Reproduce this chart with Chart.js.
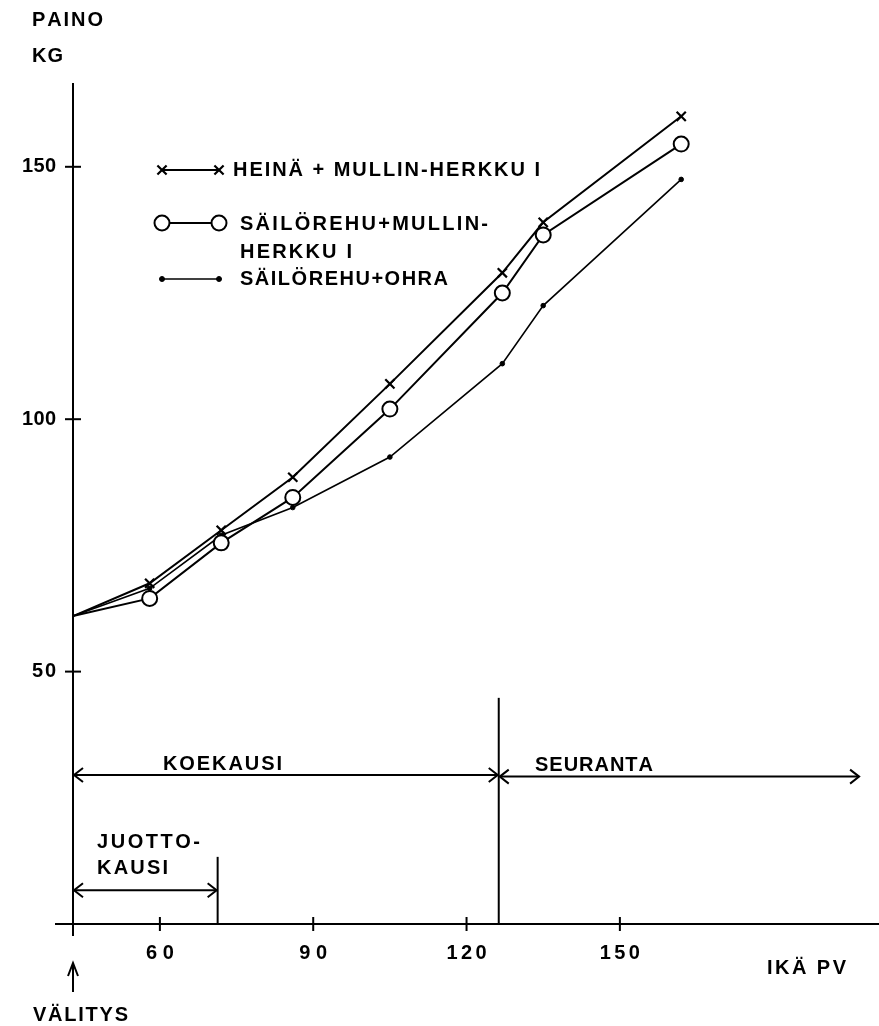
<!DOCTYPE html>
<html><head><meta charset="utf-8">
<script src="https://cdn.jsdelivr.net/npm/chart.js@4.4.1/dist/chart.umd.min.js"></script>
<style>html,body{margin:0;padding:0;background:#fff;overflow:hidden}#wrap{width:879px;height:1026px;position:relative}</style>
</head><body><div id="wrap"><canvas id="c"></canvas></div>
<script>
// ---- data ----
const days = [43, 58, 72, 86, 105, 127, 135, 162];
const heinaMH = [61, 67.5, 78, 88.5, 107, 129, 139, 160];
const sailoMH = [61, 64.5, 75.5, 84.5, 102, 125, 136.5, 154.5];
const sailoOhra = [61, 66.5, 77, 82.5, 92.5, 111, 122.5, 147.5];
const seriesNames = [['HEINÄ + MULLIN-HERKKU I'], ['SÄILÖREHU+MULLIN-', 'HERKKU I'], ['SÄILÖREHU+OHRA']];
const xTicks = [60, 90, 120, 150];
const yTicks = [50, 100, 150];
const xTitle = 'IKÄ PV';
const yTitle = ['PAINO', 'KG'];
const startLabel = 'VÄLITYS';
const periodLabels = [['KOEKAUSI'], ['SEURANTA'], ['JUOTTO-', 'KAUSI']];
const periodFrom = [43, 126.3, 43];
const periodTo = [126.3, 197, 71.3];
const periodLevel = [29.5, 29.2, 6.7];
const dividerDay = [126.3, 71.3];
const dividerTop = [44.8, 13.3];

const X_MIN = 43, X_MAX = 200.7, Y_MIN = 0, Y_MAX = 166.6;
const FONT = '"Liberation Sans", Arial, Helvetica, sans-serif';
const TXT = 'bold 20px ' + FONT;

function pts(vals){ return days.map((d,i)=>({x:d, y:vals[i]})); }
// no marker drawn at the common starting point
function radii(r){ return days.map((d,i)=> i===0 ? 0 : r); }

// draw text with letter spacing fitted to a target width
function spaced(ctx, text, x, y, width, align){
  const chars = [...text];
  let w = 0; const ws = chars.map(c=>{const m=ctx.measureText(c).width; w+=m; return m;});
  const sp = chars.length>1 ? Math.max(0,(width - w)/(chars.length-1)) : 0;
  const total = w + sp*(chars.length-1);
  let cx = align==='center' ? x - total/2 : align==='right' ? x - total : x;
  ctx.textAlign='left';
  chars.forEach((c,i)=>{ ctx.fillText(c, cx, y); cx += ws[i] + sp; });
}
function chevron(ctx, x, y, dir){
  ctx.beginPath();
  ctx.moveTo(x - dir*9, y - 7); ctx.lineTo(x, y); ctx.lineTo(x - dir*9, y + 7);
  ctx.stroke();
}
const legY = [170, 223, 279];
const legX = [162, 219];

const deco = {
  id:'deco',
  beforeDatasetsDraw(chart){
    const ctx = chart.ctx, xs = chart.scales.x, ys = chart.scales.y;
    const X = v=>xs.getPixelForValue(v), Y = v=>ys.getPixelForValue(v);
    ctx.save();
    ctx.strokeStyle='#000'; ctx.fillStyle='#000'; ctx.lineCap='butt';
    ctx.lineWidth=2;
    // axes
    ctx.beginPath(); ctx.moveTo(X(X_MIN), Y(Y_MAX)); ctx.lineTo(X(X_MIN), Y(0)+12); ctx.stroke();
    ctx.beginPath(); ctx.moveTo(X(X_MIN)-18, Y(0)); ctx.lineTo(chart.width, Y(0)); ctx.stroke();
    // ticks
    ctx.font = TXT; ctx.textBaseline='middle';
    xTicks.forEach(t=>{
      ctx.beginPath(); ctx.moveTo(X(t), Y(0)-7); ctx.lineTo(X(t), Y(0)+7); ctx.stroke();
      spaced(ctx, String(t), X(t), Y(0)+29, String(t).length===2?28:40, 'center');
    });
    yTicks.forEach(t=>{
      ctx.beginPath(); ctx.moveTo(X(X_MIN)-8, Y(t)); ctx.lineTo(X(X_MIN)+8, Y(t)); ctx.stroke();
      spaced(ctx, String(t), X(X_MIN)-17, Y(t), String(t).length===2?24:34, 'right');
    });
    // titles
    spaced(ctx, yTitle[0], 32, 20, 71, 'left');
    spaced(ctx, yTitle[1], 32, 56, 31, 'left');
    spaced(ctx, xTitle, 767, 968, 79, 'left');
    spaced(ctx, startLabel, 33, 1015, 95, 'left');
    // start arrow
    ctx.beginPath(); ctx.moveTo(X(X_MIN), 992); ctx.lineTo(X(X_MIN), 964); ctx.stroke();
    ctx.beginPath(); ctx.moveTo(X(X_MIN)-5, 976); ctx.lineTo(X(X_MIN), 963); ctx.lineTo(X(X_MIN)+5, 976); ctx.stroke();
    // period dividers
    dividerDay.forEach((d,i)=>{
      ctx.beginPath(); ctx.moveTo(X(d), Y(dividerTop[i])); ctx.lineTo(X(d), Y(0)); ctx.stroke();
    });
    // period arrows
    periodFrom.forEach((f,i)=>{
      const y = Y(periodLevel[i]), x1 = X(f)+1, x2 = X(periodTo[i])-1;
      ctx.beginPath(); ctx.moveTo(x1, y); ctx.lineTo(x2, y); ctx.stroke();
      chevron(ctx, x1, y, -1); chevron(ctx, x2, y, 1);
    });
    // period labels
    spaced(ctx, periodLabels[0][0], 163, Y(periodLevel[0])-11, 119, 'left');
    spaced(ctx, periodLabels[1][0], 535, Y(periodLevel[1])-11, 118, 'left');
    spaced(ctx, periodLabels[2][0], 97, 842, 103, 'left');
    spaced(ctx, periodLabels[2][1], 97, 868, 71, 'left');
    // legend lines
    const ds = chart.data.datasets;
    legY.forEach((y,i)=>{
      ctx.lineWidth = ds[i].borderWidth;
      ctx.beginPath(); ctx.moveTo(legX[0], y); ctx.lineTo(legX[1], y); ctx.stroke();
    });
    // legend text
    spaced(ctx, seriesNames[0][0], 233, legY[0], 307, 'left');
    spaced(ctx, seriesNames[1][0], 240, legY[1]+1, 248, 'left');
    spaced(ctx, seriesNames[1][1], 240, 252, 112, 'left');
    spaced(ctx, seriesNames[2][0], 240, legY[2], 208, 'left');
    ctx.restore();
  },
  afterDatasetsDraw(chart){
    const ctx = chart.ctx, ds = chart.data.datasets;
    ctx.save();
    legY.forEach((y,i)=>{
      legX.forEach(px=>{
        ctx.fillStyle = ds[i].pointBackgroundColor; ctx.strokeStyle='#000'; ctx.lineWidth = ds[i].pointBorderWidth;
        Chart.helpers.drawPoint(ctx, {pointStyle: ds[i].pointStyle, radius: ds[i].legendRadius, borderWidth: ds[i].pointBorderWidth}, px, y);
      });
    });
    ctx.restore();
  }
};

new Chart(document.getElementById('c'), {
  type:'line',
  data:{ datasets:[
    {label:seriesNames[0].join(' '), data:pts(heinaMH), borderColor:'#000', borderWidth:2, pointStyle:'crossRot', pointRadius:radii(6.5), legendRadius:6.5, pointBorderWidth:2.2, pointBorderColor:'#000', pointBackgroundColor:'#000', tension:0, fill:false},
    {label:seriesNames[1].join(' '), data:pts(sailoMH), borderColor:'#000', borderWidth:2, pointStyle:'circle', pointRadius:radii(7.5), legendRadius:7.5, pointBorderWidth:2, pointBorderColor:'#000', pointBackgroundColor:'#fff', tension:0, fill:false},
    {label:seriesNames[2].join(' '), data:pts(sailoOhra), borderColor:'#000', borderWidth:1.6, pointStyle:'circle', pointRadius:radii(2.3), legendRadius:2.5, pointBorderWidth:1, pointBorderColor:'#000', pointBackgroundColor:'#000', tension:0, fill:false}
  ]},
  options:{
    responsive:true, maintainAspectRatio:false, animation:false, devicePixelRatio:1,
    layout:{autoPadding:false, padding:{left:73, top:83, right:0, bottom:102}},
    plugins:{legend:{display:false}, tooltip:{enabled:false}},
    scales:{
      x:{type:'linear', min:X_MIN, max:X_MAX, display:false},
      y:{type:'linear', min:Y_MIN, max:Y_MAX, display:false}
    },
    clip:false
  },
  plugins:[deco]
});
</script>
</body></html>
